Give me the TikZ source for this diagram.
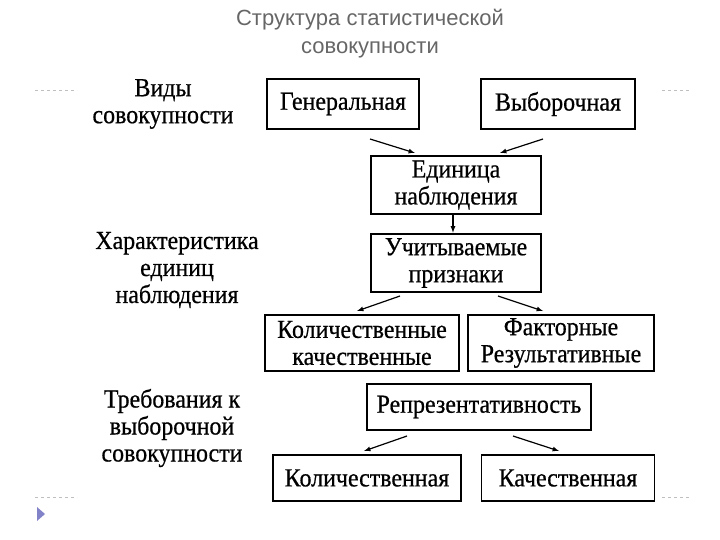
\documentclass[tikz,border=0pt]{standalone}
\usepackage{fontspec}
\setmainfont{Liberation Serif}[FakeStretch=0.92,FakeBold=0.6]
\newfontfamily\titlefont{Liberation Sans}
\begin{document}
\begin{tikzpicture}[x=1pt,y=-1pt,
  box/.style={draw,line width=1.3pt,inner sep=0pt,align=center,font=\fontsize{26}{27}\selectfont},
  lbl/.style={align=center,font=\fontsize{26}{27}\selectfont},
  arr/.style={-latex,line width=1.2pt},
  dashline/.style={draw=gray!50,dashed,line width=0.6pt}]
\useasboundingbox (0,0) rectangle (720,540);
\node[font=\titlefont\fontsize{22}{28}\selectfont,text=gray!80!black,align=center] (title) at (370,34) {Структура статистической\\совокупности};
\node[lbl] (l1) at (163,104) {Виды\\совокупности};
\node[lbl] (l2) at (177,270) {Характеристика\\единиц\\наблюдения};
\node[lbl] (l3) at (172,428) {Требования к\\выборочной\\совокупности};
\node[box,minimum width=152,minimum height=50] (gen) at (343,104) {Генеральная};
\node[box,minimum width=154,minimum height=50] (vyb) at (558,104) {Выборочная};
\node[box,minimum width=170,minimum height=58] (ed) at (456,185) {Единица\\наблюдения};
\node[box,minimum width=170,minimum height=58] (uch) at (456,263) {Учитываемые\\признаки};
\node[box,minimum width=194,minimum height=56] (kk) at (362,343) {Количественные\\качественные};
\node[box,minimum width=186,minimum height=56] (fr) at (561,343) {Факторные\\Результативные};
\node[box,minimum width=224,minimum height=46] (rep) at (479,407) {Репрезентативность};
\node[box,minimum width=188,minimum height=46] (kol) at (367,478) {Количественная};
\node[box,minimum width=173,minimum height=46] (kach) at (568,478) {Качественная};
\coordinate (g1) at (370,139); \coordinate (g2) at (415,153);
\coordinate (v1) at (543,139); \coordinate (v2) at (500,153);
\draw[arr] (g1) -- (g2);
\draw[arr] (v1) -- (v2);
\draw[arr] (ed.south) ++(-3,0) coordinate (e1) -- ++(0,18);
\coordinate (u1) at (400,296); \coordinate (u2) at (357,311);
\coordinate (u3) at (498,296); \coordinate (u4) at (543,311);
\draw[arr] (u1) -- (u2);
\draw[arr] (u3) -- (u4);
\coordinate (r1) at (407,436); \coordinate (r2) at (364,451);
\coordinate (r3) at (513,436); \coordinate (r4) at (559,451);
\draw[arr] (r1) -- (r2);
\draw[arr] (r3) -- (r4);
\draw[dashline] (35,90) -- (77,90);
\draw[dashline] (662,90) -- (690,90);
\draw[dashline] (35,497) -- (77,497);
\draw[dashline] (662,497) -- (690,497);
\fill[blue!40!gray!70] (37,507) -- (45,514) -- (37,521) -- cycle;
\end{tikzpicture}
\end{document}
